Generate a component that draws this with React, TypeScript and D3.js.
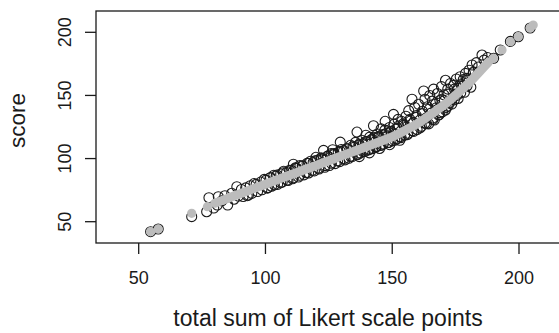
import React from "react";
import * as d3 from "d3";

// Observed points: total sum of Likert scale points vs score
const likertSum: number[] = [
  54.7, 57.7, 70.9, 76.8, 77.7, 79.6, 81.4, 81.0, 82.8, 84.0, 85.1, 86.7, 87.6, 88.7, 89.3,
  90.5, 91.2, 92.2, 92.8, 93.3, 94.0, 94.6, 95.5, 96.3, 96.9, 98.1, 98.6, 99.5, 100.2, 100.7,
  101.8, 102.4, 103.3, 104.2, 104.8, 106.0, 106.6, 107.2, 108.3, 108.9, 110.1, 110.7, 111.0, 111.8, 112.4,
  113.0, 113.6, 114.6, 115.2, 116.4, 117.0, 117.8, 118.8, 119.3, 119.9, 120.5, 121.1, 121.9, 122.8, 122.9,
  123.4, 124.6, 125.2, 125.9, 126.5, 126.9, 127.5, 128.7, 129.3, 129.5, 129.9, 130.8, 131.4, 132.3, 132.9,
  133.6, 134.2, 134.8, 135.5, 136.1, 136.4, 136.8, 137.0, 137.4, 138.0, 138.6, 139.2, 139.6, 139.9, 140.5,
  141.0, 141.1, 141.7, 142.3, 142.6, 142.9, 143.5, 144.1, 144.7, 145.0, 145.3, 145.6, 145.9, 146.5, 147.1,
  147.2, 147.7, 148.3, 148.9, 149.0, 149.5, 150.1, 150.5, 150.7, 151.3, 151.9, 152.3, 152.5, 153.0, 153.1,
  153.7, 154.3, 154.9, 155.4, 155.6, 156.2, 156.5, 157.0, 157.8, 157.9, 158.4, 158.9, 159.5, 159.8, 160.4,
  160.9, 161.5, 161.9, 162.4, 162.9, 163.3, 163.9, 164.4, 164.8, 165.3, 165.8, 166.3, 166.6, 167.2, 167.8,
  168.3, 168.8, 169.4, 169.8, 170.4, 171.0, 171.3, 171.9, 172.5, 173.0, 173.6, 174.2, 174.8, 175.3, 175.9,
  176.8, 177.4, 178.0, 178.9, 179.5, 180.3, 181.5, 182.0, 183.2, 184.0, 185.4, 186.2, 187.6, 190.0, 192.6,
  196.6, 199.7, 204.4, 162.9, 166.0, 168.8, 172.0, 174.5, 177.0, 179.5, 170.6, 175.5, 143.0, 147.5, 151.0,
  101.0, 103.5, 106.0, 108.5, 111.0, 113.5, 116.0, 118.5, 121.0, 123.5, 126.0, 128.5, 131.0, 133.5, 136.0,
  138.5, 141.0, 143.5, 146.0, 148.5, 151.0, 153.5, 156.0, 158.5, 161.0, 163.5, 166.0, 168.5, 171.0, 173.5,
  176.0, 178.5, 181.0,
  102.0, 104.5, 107.0, 109.5, 112.0, 114.5, 117.0, 119.5, 122.0, 124.5, 127.0, 129.5, 132.0, 134.5, 137.0,
  139.5, 142.0, 144.5, 147.0, 149.5, 152.0, 154.5, 157.0, 159.5, 162.0, 164.5, 167.0, 169.5, 172.0, 174.5,
  177.0, 179.5, 182.0
];
const observedScore: number[] = [
  42.1, 44.2, 54.0, 57.9, 69.0, 60.8, 69.8, 63.2, 66.5, 70.6, 63.2, 72.5, 67.8, 77.7, 70.2,
  75.5, 69.9, 76.8, 70.6, 71.1, 78.5, 72.4, 80.2, 79.6, 73.9, 81.4, 75.3, 83.5, 82.9, 76.6,
  84.6, 78.1, 86.8, 86.0, 79.6, 87.8, 81.3, 90.0, 89.0, 82.6, 90.8, 84.0, 95.5, 92.6, 92.2,
  85.4, 94.5, 93.9, 87.1, 96.2, 88.6, 97.9, 96.9, 90.2, 101.0, 98.7, 91.7, 100.6, 100.0, 106.5,
  93.1, 101.9, 94.5, 103.9, 107.0, 103.1, 96.0, 105.0, 97.6, 113.0, 107.2, 106.3, 99.0, 107.8, 100.2,
  110.5, 101.6, 108.9, 112.8, 121.0, 103.1, 110.6, 101.5, 104.4, 114.5, 111.9, 105.6, 118.5, 113.5, 106.8,
  104.5, 117.0, 114.8, 107.9, 126.0, 116.6, 109.2, 119.5, 117.0, 108.0, 110.3, 123.5, 118.9, 111.5, 122.5,
  129.5, 120.1, 112.7, 124.6, 111.0, 121.3, 114.0, 135.0, 127.3, 123.3, 115.6, 131.0, 125.8, 114.5, 117.3,
  129.5, 127.5, 118.6, 133.5, 125.0, 120.0, 138.0, 131.0, 147.0, 122.0, 128.5, 140.5, 134.0, 123.0, 143.0,
  130.5, 125.5, 137.5, 153.5, 147.0, 132.0, 141.0, 127.5, 150.0, 136.0, 145.5, 155.0, 130.5, 140.0, 151.5,
  134.5, 146.0, 157.0, 137.0, 150.5, 162.0, 140.5, 155.0, 144.0, 159.5, 147.0, 158.0, 151.0, 163.0, 155.5,
  164.8, 158.5, 162.5, 167.5, 162.0, 170.0, 174.1, 168.0, 176.0, 172.5, 182.0, 178.0, 180.0, 179.4, 186.0,
  192.8, 196.5, 203.4, 128.0, 132.0, 136.5, 141.5, 146.5, 152.0, 157.5, 146.0, 150.0, 113.0, 117.5, 119.5,
  77.0, 79.2, 80.9, 83.0, 84.8, 86.8, 88.8, 90.6, 92.4, 94.4, 96.3, 98.2, 100.0, 101.8, 103.4,
  105.6, 107.3, 109.0, 110.8, 112.7, 114.5, 116.6, 119.0, 121.5, 124.3, 127.6, 130.8, 134.8, 138.5, 143.2,
  147.6, 152.5, 156.5,
  85.0, 87.0, 88.8, 90.8, 92.5, 94.3, 96.3, 98.2, 100.0, 101.9, 104.0, 105.8, 107.8, 109.7, 111.3,
  113.5, 115.3, 117.5, 119.3, 121.5, 124.0, 126.5, 129.5, 132.5, 135.5, 139.0, 143.0, 147.0, 151.0, 155.0,
  159.0, 163.5, 168.5
];

// Fitted values (grey): continuous band and isolated fitted points
const fitLineSum: number[] = [80, 85, 90, 95, 100, 105, 110, 115, 120, 125, 130, 135, 140, 145, 150, 155, 160, 165, 170, 175, 180, 185, 188];
const fitLineScore: number[] = [64.6, 68.4, 72.2, 76.0, 79.7, 83.5, 87.2, 90.9, 94.6, 98.3, 102.1, 105.8, 109.6, 113.3, 117.2, 122.2, 127.8, 134.6, 141.8, 150.3, 159.4, 170.0, 176.5];
const fitPointSum: number[] = [54.7, 57.7, 70.9, 77.1, 189.9, 193.3, 196.6, 199.7, 204.4, 205.6];
const fitPointScore: number[] = [42.1, 44.2, 56.6, 61.9, 179.4, 186.0, 192.6, 196.5, 203.4, 205.8];

const xTicks = [50, 100, 150, 200];
const yTicks = [50, 100, 150, 200];
const xTitle = "total sum of Likert scale points";
const yTitle = "score";

export default function App() {
  const W = 559, H = 333;
  const x = d3.scaleLinear().domain([50, 200]).range([138.7, 519]);
  const y = d3.scaleLinear().domain([50, 200]).range([221.7, 32.3]);
  const left = 96, top = 11, bottom = 243, right = 572;
  const font = "'Liberation Sans', Arial, Helvetica, sans-serif";
  const ink = "#1a1a1a";
  const grey = "#bcbcbc";

  const line = d3
    .line<number>()
    .x((_, i) => x(fitLineSum[i]))
    .y((_, i) => y(fitLineScore[i]))
    .curve(d3.curveMonotoneX);

  return (
    <svg
      width={W}
      height={H}
      style={{ position: "absolute", left: 0, top: 0, background: "#fff" }}
    >
      <defs>
        <clipPath id="plotclip">
          <rect x={left} y={top} width={right - left} height={bottom - top} />
        </clipPath>
      </defs>
      <g clipPath="url(#plotclip)">
        {likertSum.map((v, i) => (
          <circle
            key={"o" + i}
            cx={x(v)}
            cy={y(observedScore[i])}
            r={5}
            fill="none"
            stroke={ink}
            strokeWidth={1.1}
          />
        ))}
        <path
          d={line(fitLineSum) || ""}
          fill="none"
          stroke={grey}
          strokeWidth={9}
          strokeLinecap="round"
          strokeLinejoin="round"
        />
        {fitPointSum.map((v, i) => (
          <circle
            key={"f" + i}
            cx={x(v)}
            cy={y(fitPointScore[i])}
            r={4.6}
            fill={grey}
            stroke="none"
          />
        ))}
      </g>
      <rect
        x={left}
        y={top}
        width={right - left}
        height={bottom - top}
        fill="none"
        stroke={ink}
        strokeWidth={1.3}
      />
      {xTicks.map((t) => (
        <g key={"xt" + t}>
          <line x1={x(t)} x2={x(t)} y1={bottom} y2={bottom + 11} stroke={ink} strokeWidth={1.3} />
          <text
            x={x(t)}
            y={284}
            textAnchor="middle"
            fontFamily={font}
            fontSize={18}
            fill={ink}
          >
            {t}
          </text>
        </g>
      ))}
      {yTicks.map((t) => (
        <g key={"yt" + t}>
          <line x1={left - 11} x2={left} y1={y(t)} y2={y(t)} stroke={ink} strokeWidth={1.3} />
          <text
            transform={`translate(70.5,${y(t)}) rotate(-90)`}
            textAnchor="middle"
            fontFamily={font}
            fontSize={18}
            fill={ink}
          >
            {t}
          </text>
        </g>
      ))}
      <text
        x={328}
        y={326}
        textAnchor="middle"
        fontFamily={font}
        fontSize={23}
        fill={ink}
      >
        {xTitle}
      </text>
      <text
        transform={`translate(25,120.5) rotate(-90)`}
        textAnchor="middle"
        fontFamily={font}
        fontSize={22.5}
        fill={ink}
      >
        {yTitle}
      </text>
    </svg>
  );
}
